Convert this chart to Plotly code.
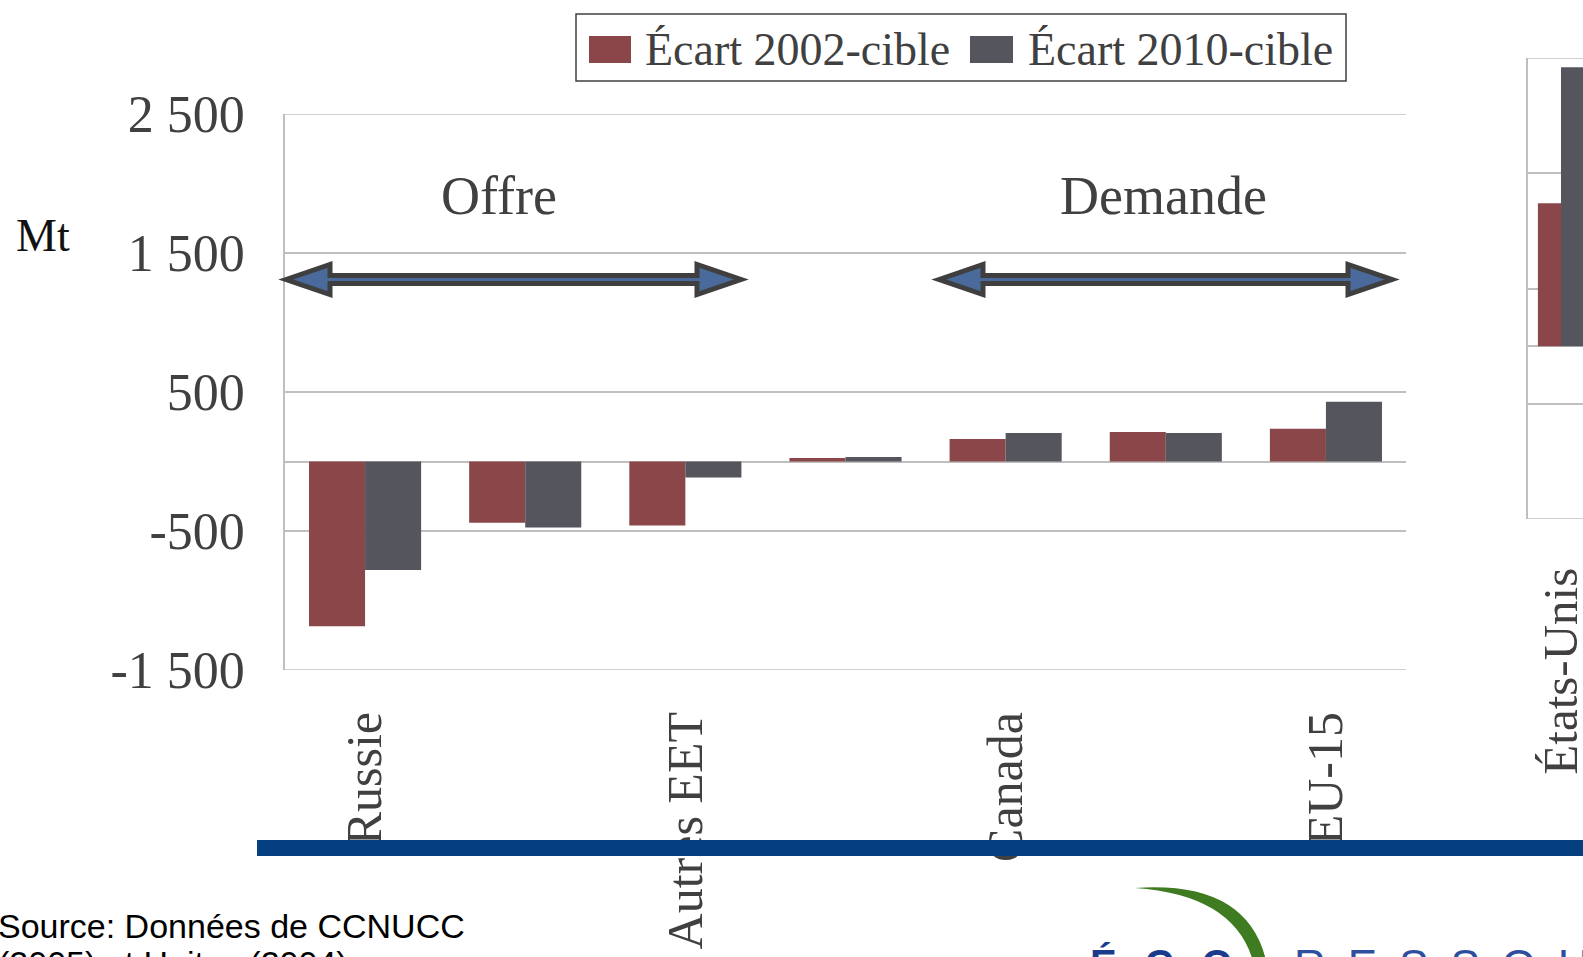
import plotly.graph_objects as go

W, H = 1583, 957

# ---------------- data ----------------
categories = ["Russie", "Ukraine", "Autres EET", "Nouvelle-Zélande", "Canada", "Japon", "EU-15"]
ecart_2002 = [-1185, -440, -460, 25, 162, 212, 235]
ecart_2010 = [-780, -475, -115, 32, 205, 205, 430]
shown_labels = ["Russie", "Autres EET", "Canada", "EU-15"]

us_category = ["États-Unis"]
us_2002 = [1240]
us_2010 = [2420]

series_names = ["Écart 2002-cible", "Écart 2010-cible"]
y_ticks = [-1500, -500, 500, 1500, 2500]
y_ticktext = ["-1 500", "-500", "500", "1 500", "2 500"]
y_range = [-1500, 2500]

# ---------------- style ----------------
RED = "#8A4648"
DARK = "#55555D"
GRID = "#BFBFBF"
TXT = "#404040"
SERIF = "Liberation Serif, Times New Roman, serif"
SANS = "Liberation Sans, Arial, sans-serif"


def px(x):
    return x / W


def py(y):
    return 1 - y / H


fig = go.Figure()
fig.add_trace(go.Bar(x=categories, y=ecart_2002, name=series_names[0], marker_color=RED,
                     marker_line_width=0, xaxis="x", yaxis="y", showlegend=False))
fig.add_trace(go.Bar(x=categories, y=ecart_2010, name=series_names[1], marker_color=DARK,
                     marker_line_width=0, xaxis="x", yaxis="y", showlegend=False))
fig.add_trace(go.Bar(x=us_category, y=us_2002, name=series_names[0], marker_color=RED,
                     marker_line_width=0, xaxis="x2", yaxis="y2", showlegend=False))
fig.add_trace(go.Bar(x=us_category, y=us_2010, name=series_names[1], marker_color=DARK,
                     marker_line_width=0, xaxis="x2", yaxis="y2", showlegend=False))

yaxis_common = dict(range=y_range, tickvals=y_ticks, ticktext=y_ticktext,
                    showgrid=True, gridcolor=GRID, gridwidth=1.5,
                    zeroline=True, zerolinecolor=GRID, zerolinewidth=1.5,
                    showline=True, linecolor=GRID, linewidth=1.5,
                    ticks="", automargin=False, fixedrange=True)

fig.update_layout(
    template="none",
    width=W, height=H, autosize=False,
    margin=dict(l=0, r=0, t=0, b=0, pad=0),
    paper_bgcolor="white", plot_bgcolor="white",
    barmode="group", bargap=0.3, bargroupgap=0,
    showlegend=False,
    xaxis=dict(domain=[px(285), px(1406)], anchor="y", type="category",
               categoryorder="array", categoryarray=categories,
               range=[-0.5, len(categories) - 0.5],
               tickmode="array", tickvals=shown_labels, tickangle=-90,
               tickfont=dict(family=SERIF, size=50, color=TXT),
               ticks="", showgrid=False, zeroline=False, showline=False,
               ticklabelstandoff=31, automargin=False, fixedrange=True),
    yaxis=dict(domain=[py(670), py(114)], anchor="x",
               tickfont=dict(family=SERIF, size=52, color=TXT),
               ticklabelstandoff=28, **yaxis_common),
    xaxis2=dict(domain=[px(1528), 1], anchor="y2", type="category",
                range=[-0.5, -0.5 + 55 / 66],
                tickmode="array", tickvals=us_category, tickangle=-90,
                tickfont=dict(family=SERIF, size=49, color=TXT),
                ticks="", showgrid=False, zeroline=False, showline=False,
                ticklabelstandoff=38, automargin=False, fixedrange=True),
    yaxis2=dict(domain=[py(519), py(58)], anchor="x2", showticklabels=False,
                **yaxis_common),
)


def arrow_path(x0, x1, yc, shaft_h, head_h, head_len):
    pts = [(x0, yc), (x0 + head_len, yc - head_h), (x0 + head_len, yc - shaft_h),
           (x1 - head_len, yc - shaft_h), (x1 - head_len, yc - head_h), (x1, yc),
           (x1 - head_len, yc + head_h), (x1 - head_len, yc + shaft_h),
           (x0 + head_len, yc + shaft_h), (x0 + head_len, yc + head_h)]
    return "M " + " L ".join(f"{px(x):.5f},{py(y):.5f}" for x, y in pts) + " Z"


shapes = []
# edge gridlines (top / bottom of each value axis)
for xd, yd in [("x domain", "y"), ("x2 domain", "y2")]:
    for v in (y_range[0], y_range[1]):
        shapes.append(dict(type="line", xref=xd, yref=yd, x0=0, x1=1, y0=v, y1=v,
                           line=dict(color=GRID, width=1.5), layer="below"))

# arrows Offre / Demande
for x0, x1 in [(286, 741), (939, 1392)]:
    shapes.append(dict(type="path", xref="paper", yref="paper",
                       path=arrow_path(x0, x1, 279.5, 4, 15, 44),
                       fillcolor="#4A6A9C", line=dict(color="#3F3F3F", width=5),
                       layer="above"))

# legend box and swatches
shapes.append(dict(type="rect", xref="paper", yref="paper",
                   x0=px(576), x1=px(1346), y0=py(81), y1=py(14),
                   line=dict(color="#404040", width=1.5), fillcolor="white", layer="above"))
shapes.append(dict(type="rect", xref="paper", yref="paper",
                   x0=px(589), x1=px(631), y0=py(63), y1=py(36),
                   line=dict(width=0), fillcolor=RED, layer="above"))
shapes.append(dict(type="rect", xref="paper", yref="paper",
                   x0=px(970), x1=px(1013), y0=py(63), y1=py(36),
                   line=dict(width=0), fillcolor=DARK, layer="above"))

# blue band
shapes.append(dict(type="rect", xref="paper", yref="paper",
                   x0=px(257), x1=px(1590), y0=py(856), y1=py(840),
                   line=dict(width=0), fillcolor="#053F80", layer="above"))


# green crescent of the logo
def P(x, y):
    return f"{px(x):.5f},{py(y):.5f}"


crescent = (f"M {P(1135, 888)} Q {P(1250, 880)} {P(1267, 965)} "
            f"L {P(1254, 965)} Q {P(1237, 895)} {P(1135, 888)} Z")
shapes.append(dict(type="path", xref="paper", yref="paper", path=crescent,
                   fillcolor="#3F7B20", line=dict(width=0), layer="above"))

fig.update_layout(shapes=shapes)

ann = []


def add_text(text, x, y, size, color, family, xanchor="center", bold=False):
    ann.append(dict(text=f"<b>{text}</b>" if bold else text, x=px(x), y=py(y),
                    xref="paper", yref="paper", xanchor=xanchor, yanchor="middle",
                    showarrow=False, font=dict(family=family, size=size, color=color)))


add_text("Offre", 499, 196, 54, TXT, SERIF)
add_text("Demande", 1163, 196, 54, TXT, SERIF)
add_text("Mt", 43, 235, 46, "#111111", SERIF)
add_text(series_names[0], 643, 50, 46, TXT, SERIF, xanchor="left")
add_text(series_names[1], 1026, 50, 46, TXT, SERIF, xanchor="left")
add_text("Source: Données de CCNUCC", -4, 926, 34, "#000000", SANS, xanchor="left")
add_text("(2005) et Haites (2004)", -4, 963, 34, "#000000", SANS, xanchor="left")
add_text("É\u2002\u2009C\u2002\u2009O", 1088, 964, 40, "#1B3C8C", SANS, xanchor="left", bold=True)
add_text("R\u2002E\u2002S\u2002S\u2002O\u2002U\u2002R\u2002C\u2002E\u2002S", 1292, 965, 44,
         "#2E4F9E", SANS, xanchor="left")

fig.update_layout(annotations=ann)

fig.write_html("out.html", config={"displayModeBar": False},
               post_script="document.body.style.margin='0';document.body.style.overflow='hidden';")
